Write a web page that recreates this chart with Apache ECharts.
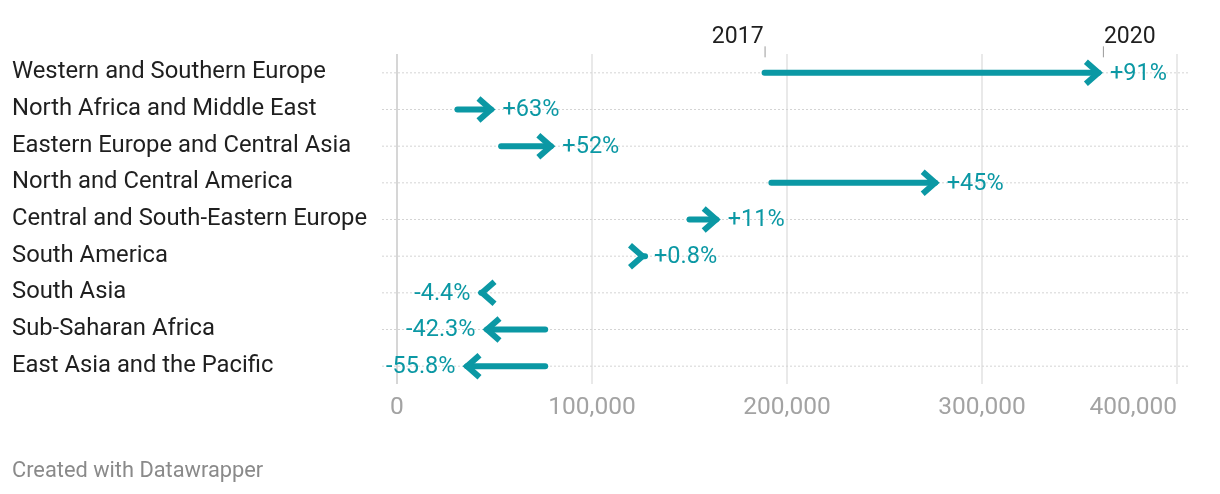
<!DOCTYPE html>
<html>
<head>
<meta charset="utf-8">
<script src="https://cdn.jsdelivr.net/npm/echarts@6/dist/echarts.min.js"></script>
<style>
html,body{margin:0;padding:0;background:#fff;}
#chart{width:1220px;height:494px;}
</style>
</head>
<body>
<div id="chart"></div>
<script>
const categories = [
  'Western and Southern Europe',
  'North Africa and Middle East',
  'Eastern Europe and Central Asia',
  'North and Central America',
  'Central and South-Eastern Europe',
  'South America',
  'South Asia',
  'Sub-Saharan Africa',
  'East Asia and the Pacific'
];
const values2017 = [188500, 31000, 53400, 192000, 150000, 127200, 43200, 76000, 76000];
const values2020 = [362000, 50500, 81200, 278300, 166000, 128200, 41300, 43850, 33600];
const changeLabels = ['+91%', '+63%', '+52%', '+45%', '+11%', '+0.8%', '-4.4%', '-42.3%', '-55.8%'];
const xTicks = [0, 100000, 200000, 300000, 400000];
const yearLabels = ['2017', '2020'];

const TEAL = '#0b98a4';
const FONT = 'Roboto, "Noto Sans", sans-serif';

const arrowData = categories.map((c, i) => [values2017[i], values2020[i], i, changeLabels[i]]);
const rowData = categories.map((c, i) => [0, i]);
const yearData = [
  [values2017[0], 0, yearLabels[0], 'right'],
  [values2020[0], 0, yearLabels[1], 'left']
];

const chart = echarts.init(document.getElementById('chart'));
chart.setOption({
  animation: false,
  textStyle: { fontFamily: FONT },
  grid: { left: 397, right: 43, top: 54, height: 330 },
  xAxis: {
    type: 'value',
    min: xTicks[0],
    max: xTicks[xTicks.length - 1],
    interval: 100000,
    axisLine: { show: false },
    axisTick: { show: false },
    splitLine: { show: true, lineStyle: { color: ['#c8c8c8', '#e2e2e2', '#e2e2e2', '#e2e2e2', '#e2e2e2'], width: 1.5 } },
    axisLabel: {
      color: '#a3a3a3', fontSize: 24.5, fontFamily: FONT, margin: 11,
      alignMaxLabel: 'right',
      formatter: v => v.toLocaleString('en-US')
    }
  },
  yAxis: {
    type: 'category',
    data: categories,
    inverse: true,
    axisLine: { show: false },
    axisTick: { show: false },
    splitLine: { show: false },
    axisLabel: { align: 'left', margin: 385, fontSize: 23.8, color: '#1f1f1f', fontFamily: FONT, padding: [3, 0, 0, 0] }
  },
  graphic: [{
    type: 'text', left: 12, top: 461,
    style: { text: 'Created with Datawrapper', fill: '#8a8a8a', fontSize: 21.8, fontFamily: FONT }
  }],
  series: [
    {
      type: 'custom',
      data: rowData,
      encode: { x: 0, y: 1 },
      silent: true,
      z: 1,
      renderItem: (params, api) => {
        const a = api.coord([xTicks[0], api.value(1)]);
        const b = api.coord([xTicks[xTicks.length - 1], api.value(1)]);
        return {
          type: 'line',
          shape: { x1: a[0] - 15, y1: a[1] + 0.5, x2: b[0] + 11, y2: b[1] + 0.5 },
          style: { stroke: '#d4d4d4', lineWidth: 1, lineDash: [2, 2] }
        };
      }
    },
    {
      type: 'custom',
      data: arrowData,
      encode: { x: [0, 1], y: 2 },
      z: 3,
      renderItem: (params, api) => {
        const s = api.coord([api.value(0), api.value(2)]);
        const e = api.coord([api.value(1), api.value(2)]);
        const dir = e[0] >= s[0] ? 1 : -1;
        const y = s[1] + 0.5;
        const vx = e[0] - 4.5 * dir;
        const label = changeLabels[params.dataIndex];
        return {
          type: 'group',
          children: [
            {
              type: 'line',
              shape: { x1: s[0], y1: y, x2: vx, y2: y },
              style: { stroke: TEAL, lineWidth: 6, lineCap: 'round' }
            },
            {
              type: 'polyline',
              shape: { points: [[vx - 12.5 * dir, y - 11], [vx, y], [vx - 12.5 * dir, y + 11]] },
              style: { stroke: TEAL, lineWidth: 6, lineJoin: 'miter', lineCap: 'butt', fill: null }
            },
            {
              type: 'text',
              x: e[0] + 7 * dir, y: y + 1,
              style: {
                text: label, fill: TEAL, fontSize: 23.5, fontFamily: FONT,
                align: dir > 0 ? 'left' : 'right', verticalAlign: 'middle'
              }
            }
          ]
        };
      }
    },
    {
      type: 'custom',
      data: yearData,
      encode: { x: 0, y: 1 },
      z: 4,
      renderItem: (params, api) => {
        const p = api.coord([api.value(0), api.value(1)]);
        const d = yearData[params.dataIndex];
        return {
          type: 'group',
          children: [
            {
              type: 'line',
              shape: { x1: p[0] + 0.5, y1: p[1] - 26, x2: p[0] + 0.5, y2: p[1] - 15 },
              style: { stroke: '#9a9a9a', lineWidth: 1 }
            },
            {
              type: 'text',
              x: d[3] === 'right' ? p[0] - 1 : p[0] + 1, y: p[1] - 35,
              style: { text: d[2], fill: '#1f1f1f', fontSize: 23, fontFamily: FONT, align: d[3], verticalAlign: 'middle' }
            }
          ]
        };
      }
    }
  ]
});
</script>
</body>
</html>
